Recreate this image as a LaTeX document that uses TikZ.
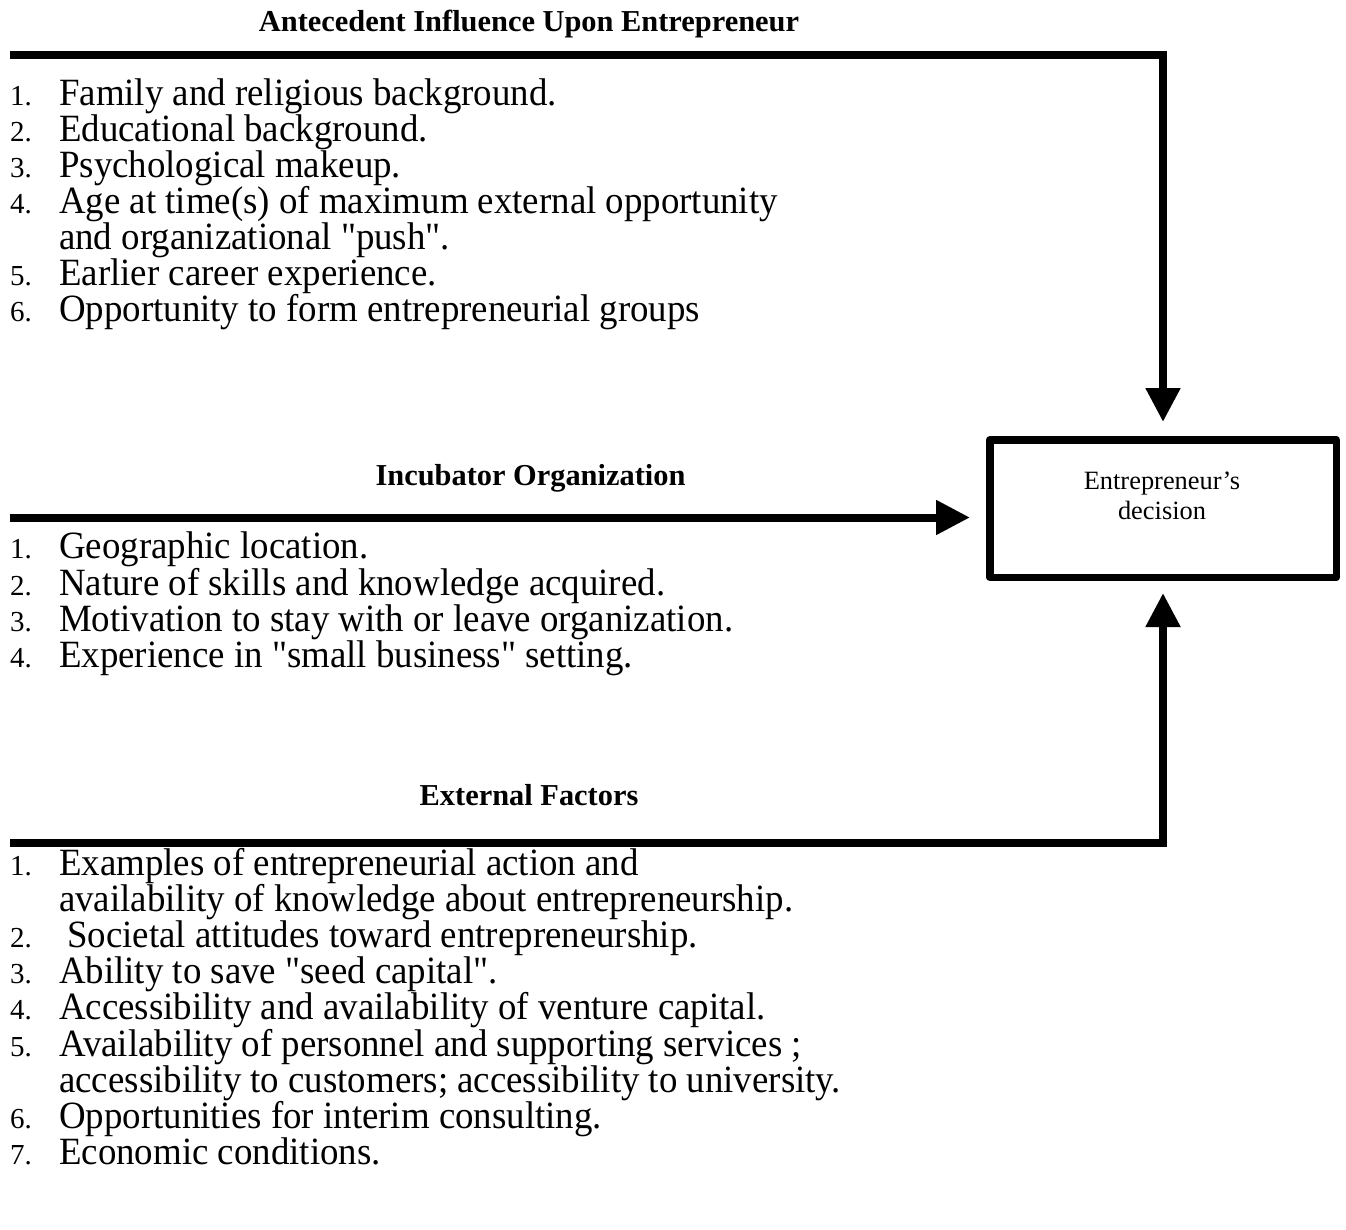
\documentclass[tikz,border=0pt]{standalone}
\usepackage{fontspec}
\setmainfont{Liberation Serif}[Ligatures=TeXOff]
\newfontfamily\itemfont{Liberation Serif}[Ligatures=TeXOff, FakeStretch=0.955]
\usetikzlibrary{arrows.meta}
\begin{document}
\begin{tikzpicture}[x=1pt,y=-1pt,
  num/.style={anchor=base west, inner sep=0pt, font=\fontsize{29}{32}\selectfont},
  item/.style={anchor=base west, inner sep=0pt, font=\itemfont\fontsize{38.6}{36}\selectfont},
  head/.style={anchor=base, inner sep=0pt, font=\bfseries\fontsize{30.4}{34}\selectfont},
  conn/.style={line width=8pt, -{Triangle[length=34pt,width=33pt]}},
  decbox/.style={draw, line width=7.5pt, minimum width=346.5pt, minimum height=137.5pt, inner sep=0pt, line join=round},
  boxtext/.style={align=center, inner sep=0pt, font=\fontsize{26.4}{30}\selectfont}]
\useasboundingbox (0,0) rectangle (1346,1230);

% decision box
\node[decbox] (box) at (1163,508.5) {};
\node[boxtext] (boxlabel) at (1162,495.5) {Entrepreneur’s\\decision};

% headings
\node[head] (h1) at (529,32) {Antecedent Influence Upon Entrepreneur};
\node[head] (h2) at (530.5,485) {Incubator Organization};
\node[head] (h3) at (529,805) {External Factors};

% connectors
\coordinate (a1) at (10,55.5);
\coordinate (b1) at (10,517.5);
\coordinate (c1) at (10,843);
\draw[conn, shorten >=14pt] (a1) -| (box.north);
\draw[conn, shorten >=16pt] (b1) -- (b1 -| box.west);
\draw[conn, shorten >=12pt] (c1) -| (box.south);

% antecedent list
\node[num] (an1) at (10,105.5) {1.};
\node[item] (at1) at (59,105.5) {Family and religious background.};
\node[num] (an2) at (10,141.5) {2.};
\node[item] (at2) at (59,141.5) {Educational background.};
\node[num] (an3) at (10,177.5) {3.};
\node[item] (at3) at (59,177.5) {Psychological makeup.};
\node[num] (an4) at (10,213.5) {4.};
\node[item] (at4) at (59,213.5) {Age at time(s) of maximum external opportunity};
\node[item] (at4b) at (59,249.5) {and organizational "push".};
\node[num] (an5) at (10,285.5) {5.};
\node[item] (at5) at (59,285.5) {Earlier career experience.};
\node[num] (an6) at (10,321.5) {6.};
\node[item] (at6) at (59,321.5) {Opportunity to form entrepreneurial groups};

% incubator list
\node[num] (bn1) at (10,558.5) {1.};
\node[item] (bt1) at (59,558.5) {Geographic location.};
\node[num] (bn2) at (10,595) {2.};
\node[item] (bt2) at (59,595) {Nature of skills and knowledge acquired.};
\node[num] (bn3) at (10,631) {3.};
\node[item] (bt3) at (59,631) {Motivation to stay with or leave organization.};
\node[num] (bn4) at (10,667) {4.};
\node[item] (bt4) at (59,667) {Experience in "small business" setting.};

% external list
\node[num] (cn1) at (10,875) {1.};
\node[item] (ct1) at (59,875) {Examples of entrepreneurial action and};
\node[item] (ct1b) at (59,911) {availability of knowledge about entrepreneurship.};
\node[num] (cn2) at (10,947) {2.};
\node[item] (ct2) at (67,947) {Societal attitudes toward entrepreneurship.};
\node[num] (cn3) at (10,983) {3.};
\node[item] (ct3) at (59,983) {Ability to save "seed capital".};
\node[num] (cn4) at (10,1019) {4.};
\node[item] (ct4) at (59,1019) {Accessibility and availability of venture capital.};
\node[num] (cn5) at (10,1056) {5.};
\node[item] (ct5) at (59,1056) {Availability of personnel and supporting services ;};
\node[item] (ct5b) at (59,1092) {accessibility to customers; accessibility to university.};
\node[num] (cn6) at (10,1128) {6.};
\node[item] (ct6) at (59,1128) {Opportunities for interim consulting.};
\node[num] (cn7) at (10,1164) {7.};
\node[item] (ct7) at (59,1164) {Economic conditions.};
\end{tikzpicture}
\end{document}
